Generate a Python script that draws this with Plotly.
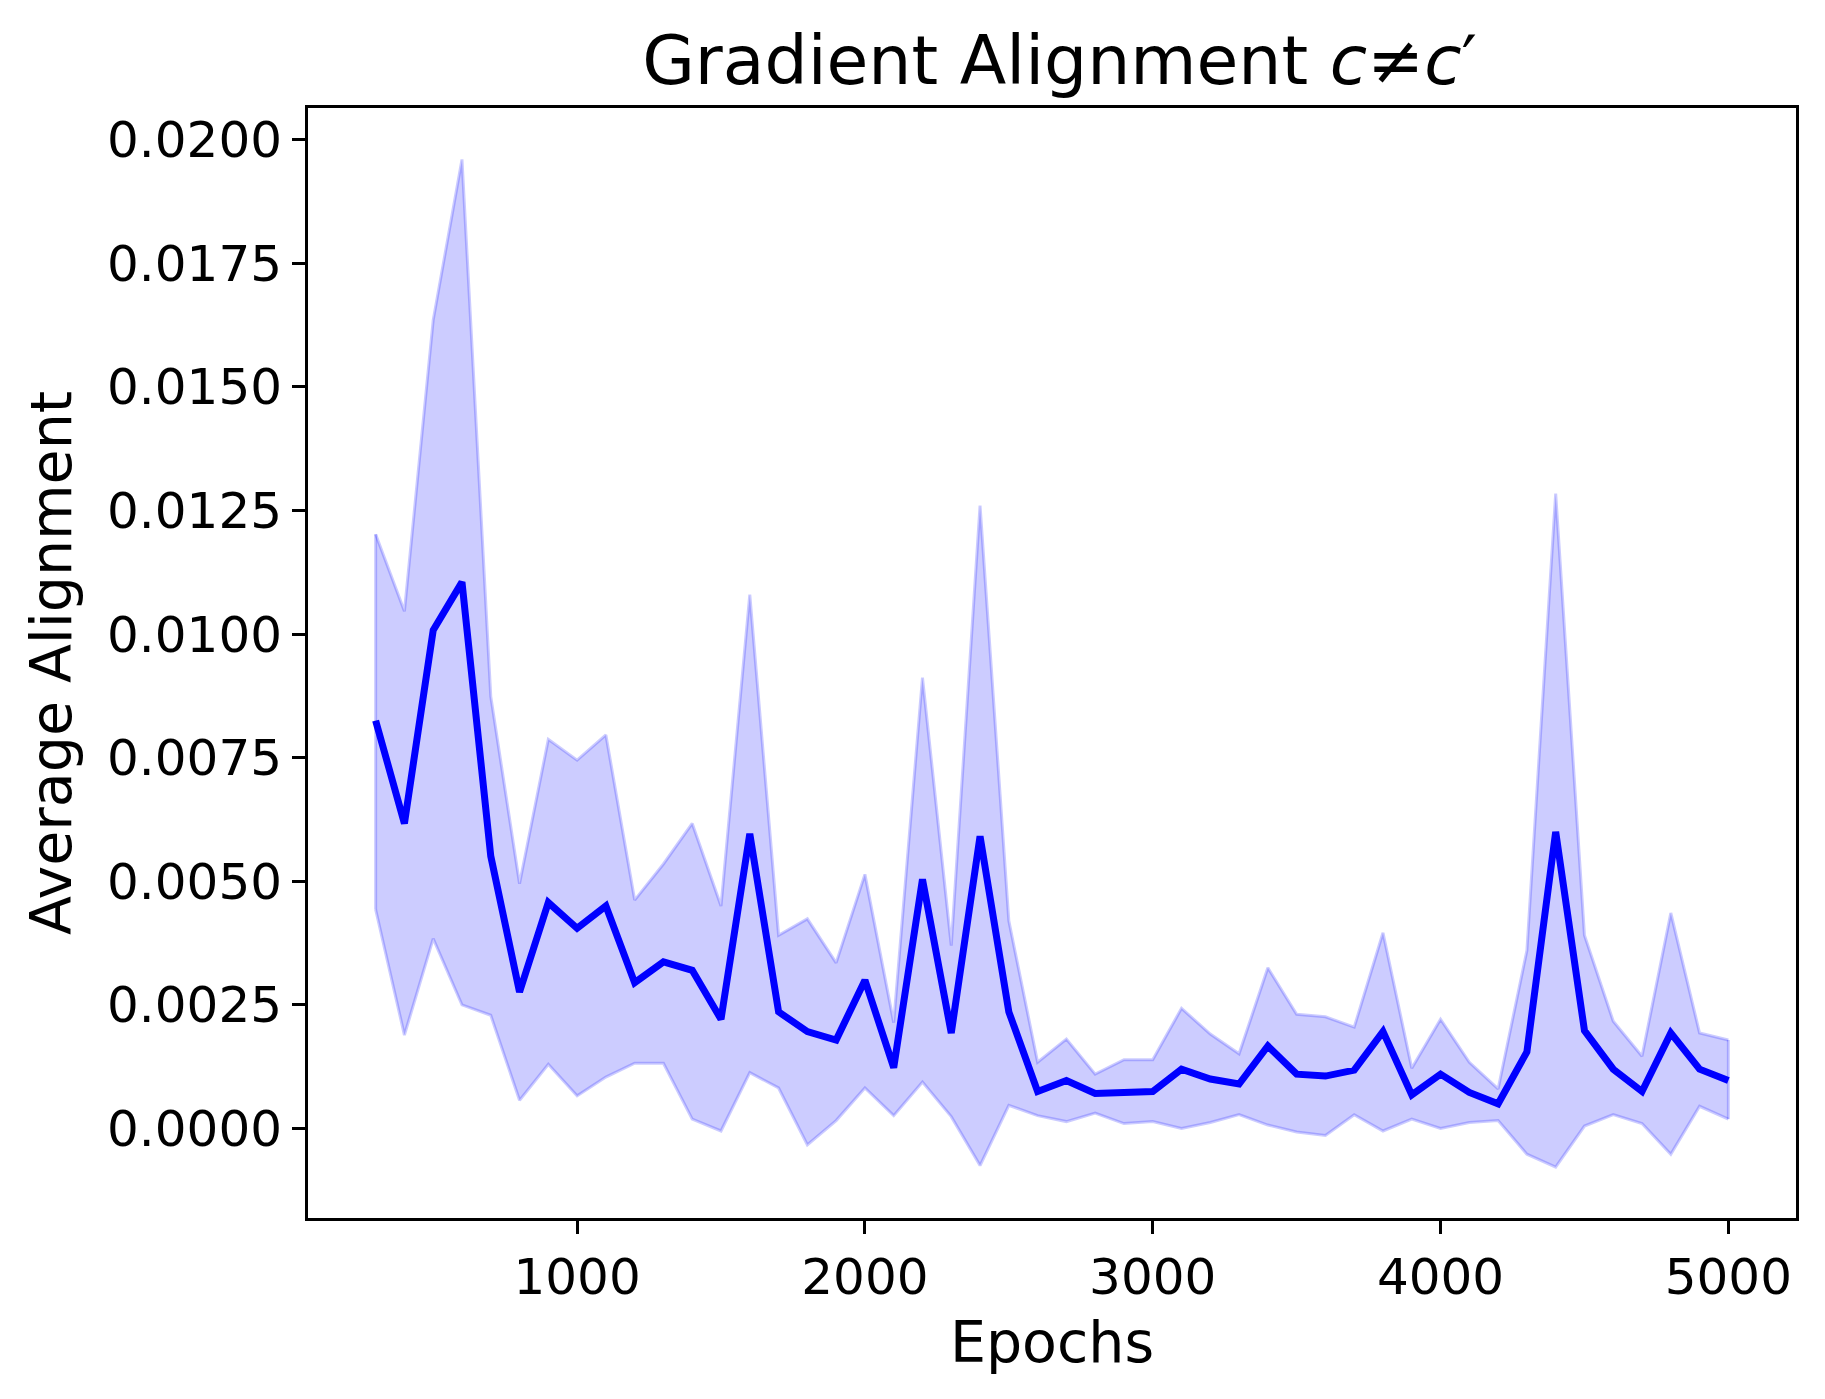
import plotly.graph_objects as go

# epochs sampled every 100
epochs = list(range(300, 5001, 100))

mean_align = [
    0.00825, 0.00617, 0.01008, 0.01105, 0.00551, 0.00276, 0.00457, 0.00405,
    0.00450, 0.00295, 0.00337, 0.00320, 0.00221, 0.00596, 0.00236, 0.00196,
    0.00179, 0.00300, 0.00123, 0.00504, 0.00193, 0.00591, 0.00236, 0.00075,
    0.00097, 0.00071, 0.00073, 0.00075, 0.00120, 0.00100, 0.00090, 0.00167,
    0.00110, 0.00106, 0.00118, 0.00196, 0.00068, 0.00110, 0.00073, 0.00050,
    0.00155, 0.00600, 0.00198, 0.00120, 0.00075, 0.00193, 0.00120, 0.00097,
]

upper_align = [
    0.01202, 0.01046, 0.01635, 0.01960, 0.00874, 0.00495, 0.00787, 0.00745,
    0.00796, 0.00462, 0.00535, 0.00617, 0.00450, 0.01080, 0.00391, 0.00424,
    0.00335, 0.00514, 0.00214, 0.00912, 0.00370, 0.01260, 0.00420, 0.00134,
    0.00181, 0.00110, 0.00139, 0.00139, 0.00243, 0.00191, 0.00151, 0.00325,
    0.00231, 0.00226, 0.00205, 0.00396, 0.00122, 0.00221, 0.00134, 0.00080,
    0.00360, 0.01284, 0.00391, 0.00217, 0.00146, 0.00436, 0.00193, 0.00179,
]

lower_align = [
    0.00443, 0.00189, 0.00384, 0.00250, 0.00229, 0.00057, 0.00130, 0.00066,
    0.00104, 0.00132, 0.00132, 0.00019, -0.00005, 0.00113, 0.00082, -0.00033,
    0.00016, 0.00082, 0.00026, 0.00094, 0.00024, -0.00075, 0.00047, 0.00026,
    0.00014, 0.00031, 0.00010, 0.00014, 0.00000, 0.00012, 0.00028, 0.00007,
    -0.00007, -0.00014, 0.00028, -0.00005, 0.00019, 0.00000, 0.00012, 0.00016,
    -0.00052, -0.00078, 0.00005, 0.00028, 0.00010, -0.00052, 0.00045, 0.00019,
]

band = "rgba(0,0,255,0.2)"
font = "DejaVu Sans"

fig = go.Figure()

# shaded band between lower and upper
fig.add_trace(go.Scatter(x=epochs, y=lower_align, mode="lines",
                         line=dict(color=band, width=3), showlegend=False))
fig.add_trace(go.Scatter(x=epochs, y=upper_align, mode="lines", fill="tonexty",
                         fillcolor=band, line=dict(color=band, width=3),
                         showlegend=False))
# closing edges at both ends
fig.add_trace(go.Scatter(x=[epochs[0], epochs[0], None, epochs[-1], epochs[-1]],
                         y=[lower_align[0], upper_align[0], None, lower_align[-1], upper_align[-1]],
                         mode="lines", line=dict(color=band, width=3), showlegend=False))

fig.add_trace(go.Scatter(x=epochs, y=mean_align, mode="lines",
                         line=dict(color="#0000ff", width=7), showlegend=False))

axis_common = dict(showline=True, linecolor="black", linewidth=3, mirror=True,
                   ticks="outside", ticklen=13, tickwidth=3, tickcolor="black",
                   showgrid=False, zeroline=False,
                   tickfont=dict(family=font, size=50, color="black"))

fig.update_xaxes(range=[65, 5235], tick0=0, dtick=1000,
                 title=dict(text="Epochs", font=dict(family=font, size=57, color="black"),
                            standoff=18),
                 **axis_common)
fig.update_yaxes(range=[-0.00181, 0.02064], tick0=0, dtick=0.0025, tickformat=".4f",
                 title=dict(text="Average Alignment", font=dict(family=font, size=57, color="black"),
                            standoff=18),
                 **axis_common)

# page body adds an 8px offset, so margins are shifted to compensate
fig.update_layout(
    width=1825, height=1399,
    margin=dict(l=300, r=37, t=100, b=189),
    paper_bgcolor="white", plot_bgcolor="white",
    title=dict(text="Gradient Alignment <i>c</i>≠<i>c</i>′", x=0.5762, xanchor="center",
               y=0.9625, yanchor="middle",
               font=dict(family=font, size=68, color="black")),
)

fig.write_html("out.html")
